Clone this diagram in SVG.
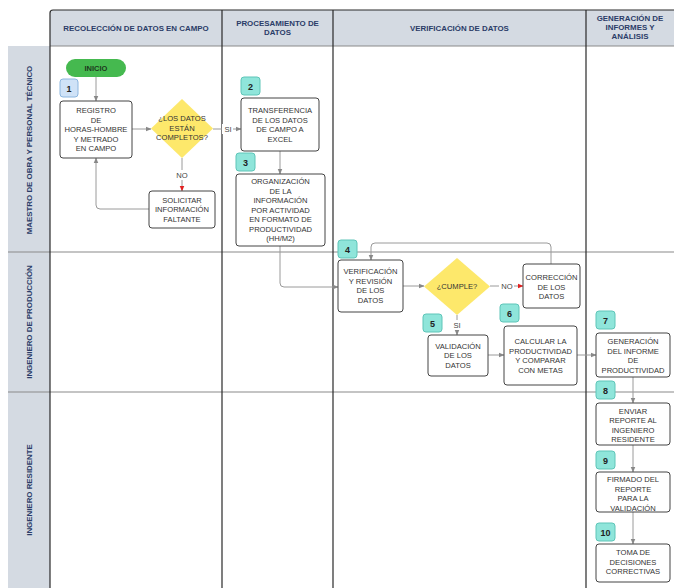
<svg xmlns="http://www.w3.org/2000/svg" width="674" height="588" viewBox="0 0 674 588">
<style>
text{font-family:"Liberation Sans",Arial,sans-serif;}
.hd{fill:#d4dae2;}
.ht{font-size:7.9px;font-weight:bold;fill:#2b3c68;text-anchor:middle;}
.col{stroke:#2a2a2a;stroke-width:1.2;fill:none;}
.sep{stroke:#8a8a8a;stroke-width:1.2;fill:none;}
.box{fill:#fff;stroke:#444;stroke-width:1;}
.bt{font-size:7.6px;fill:#333;text-anchor:middle;}
.bdg{fill:#8fe5da;stroke:#5ec5b8;stroke-width:1;}
.bdg1{fill:#cfe2f7;stroke:#8cb6df;stroke-width:1;}
.bn{font-size:9px;font-weight:bold;fill:#222;text-anchor:middle;}
.dia{fill:#fde86b;}
.cn{stroke:#9a9a9a;stroke-width:1;fill:none;}
.lbl{font-size:7.6px;fill:#444;text-anchor:middle;}
</style>
<defs>
<marker id="ar" viewBox="0 0 10 10" refX="9" refY="5" markerWidth="6" markerHeight="6" orient="auto"><path d="M0,1 L10,5 L0,9 z" fill="#888"/></marker>
<marker id="arr" viewBox="0 0 10 10" refX="9" refY="5" markerWidth="6" markerHeight="6" orient="auto"><path d="M0,1 L10,5 L0,9 z" fill="#e02020"/></marker>
</defs>
<rect width="674" height="588" fill="#fff"/>
<g id="swimlanes">
<path class="hd" d="M50,46 V13 Q50,10 53,10 H674 V46 Z"/>
<rect class="hd" x="8" y="46" width="42" height="542"/>
<path class="sep" d="M50,46 H674"/>
<path class="sep" d="M8,252 H674 M8,392 H674"/>
<path class="col" d="M50,13 Q50,10 53,10 H674"/>
<path class="col" d="M50,13 V588 M222,10 V588 M333,10 V588 M586,10 V588"/>
<text class="ht" x="136" y="31">RECOLECCIÓN DE DATOS EN CAMPO</text>
<text class="ht" x="277.5" y="26">PROCESAMIENTO DE</text>
<text class="ht" x="277.5" y="35">DATOS</text>
<text class="ht" x="459.5" y="31">VERIFICACIÓN DE DATOS</text>
<text class="ht" x="630" y="21">GENERACIÓN DE</text>
<text class="ht" x="630" y="30">INFORMES Y</text>
<text class="ht" x="630" y="39">ANÁLISIS</text>
<text class="ht" transform="translate(31.5,150) rotate(-90)">MAESTRO DE OBRA Y PERSONAL TÉCNICO</text>
<text class="ht" transform="translate(31.5,322) rotate(-90)">INGENIERO DE PRODUCCIÓN</text>
<text class="ht" transform="translate(31.5,490) rotate(-90)">INGENIERO RESIDENTE</text>
</g>
<g id="connectors">
<path class="cn" d="M96,77 V101" marker-end="url(#ar)"/>
<path class="cn" d="M132,129 H151" marker-end="url(#ar)"/>
<path class="cn" d="M213,129 H241" marker-end="url(#ar)"/>
<path class="cn" d="M280,151 V174" marker-end="url(#ar)"/>
<path class="cn" d="M182,158 V191" marker-end="url(#arr)"/>
<path class="cn" d="M149,209 H100 Q96,209 96,205 V158" marker-end="url(#ar)"/>
<path class="cn" d="M280,246 V283 Q280,287 284,287 H338" marker-end="url(#ar)"/>
<path class="cn" d="M403,286 H424" marker-end="url(#ar)"/>
<path class="cn" d="M490,286 H523" marker-end="url(#arr)"/>
<path class="cn" d="M551,264 V247 Q551,243 547,243 H375 Q371,243 371,247 V260" marker-end="url(#ar)"/>
<path class="cn" d="M457,315 V335" marker-end="url(#ar)"/>
<path class="cn" d="M488,355 H504" marker-end="url(#ar)"/>
<path class="cn" d="M577,355 H596" marker-end="url(#ar)"/>
<path class="cn" d="M633,377 V403" marker-end="url(#ar)"/>
<path class="cn" d="M633,445 V472" marker-end="url(#ar)"/>
<path class="cn" d="M633,512 V544" marker-end="url(#ar)"/>
<rect x="222" y="124" width="11" height="10" fill="#fff"/>
<text class="lbl" x="228" y="132">SI</text>
<rect x="175" y="170" width="14" height="10" fill="#fff"/>
<text class="lbl" x="182" y="178">NO</text>
<rect x="499" y="281" width="15" height="10" fill="#fff"/>
<text class="lbl" x="507" y="289">NO</text>
<rect x="452" y="320" width="10" height="10" fill="#fff"/>
<text class="lbl" x="457" y="328">SI</text>
</g>
<g id="inicio">
<rect x="66" y="59" width="60" height="18" rx="9" fill="#45b94f"/>
<text x="96" y="71" font-size="7.5" font-weight="bold" fill="#1d3a1d" text-anchor="middle">INICIO</text>
</g>
<g id="n1">
<rect class="bdg1" x="60" y="79" width="18" height="18" rx="3"/>
<text class="bn" x="69" y="91.5">1</text>
<rect class="box" x="60" y="101" width="72" height="57" rx="3"/>
<text class="bt" x="96" y="113">REGISTRO<tspan x="96" dy="9.5">DE</tspan><tspan x="96" dy="9.5">HORAS-HOMBRE</tspan><tspan x="96" dy="9.5">Y METRADO</tspan><tspan x="96" dy="9.5">EN CAMPO</tspan></text>
</g>
<g id="d1">
<path class="dia" d="M182,99 L213,128.5 L182,158 L151,128.5 Z"/>
<text class="bt" x="182" y="121">¿LOS DATOS<tspan x="182" dy="9.5">ESTÁN</tspan><tspan x="182" dy="9.5">COMPLETOS?</tspan></text>
</g>
<g id="solicitar">
<rect class="box" x="149" y="191" width="66" height="37" rx="3"/>
<text class="bt" x="182" y="202.5">SOLICITAR<tspan x="182" dy="9.5">INFORMACIÓN</tspan><tspan x="182" dy="9.5">FALTANTE</tspan></text>
</g>
<g id="n2">
<rect class="bdg" x="241" y="77" width="19" height="18" rx="3"/>
<text class="bn" x="250.5" y="89.5">2</text>
<rect class="box" x="241" y="98" width="78" height="53" rx="3"/>
<text class="bt" x="280" y="113">TRANSFERENCIA<tspan x="280" dy="9.7">DE LOS DATOS</tspan><tspan x="280" dy="9.7">DE CAMPO A</tspan><tspan x="280" dy="9.7">EXCEL</tspan></text>
</g>
<g id="n3">
<rect class="bdg" x="236" y="153" width="19" height="18" rx="3"/>
<text class="bn" x="245.5" y="166">3</text>
<rect class="box" x="236" y="174" width="89" height="72" rx="3"/>
<text class="bt" x="280.5" y="184">ORGANIZACIÓN<tspan x="280.5" dy="9.5">DE LA</tspan><tspan x="280.5" dy="9.5">INFORMACIÓN</tspan><tspan x="280.5" dy="9.5">POR ACTIVIDAD</tspan><tspan x="280.5" dy="9.5">EN FORMATO DE</tspan><tspan x="280.5" dy="9.5">PRODUCTIVIDAD</tspan><tspan x="280.5" dy="9.5">(HH/M2)</tspan></text>
</g>
<g id="n4">
<rect class="bdg" x="338" y="240" width="19" height="18" rx="3"/>
<text class="bn" x="347.5" y="252.5">4</text>
<rect class="box" x="338" y="260" width="65" height="52" rx="3"/>
<text class="bt" x="370.5" y="274">VERIFICACIÓN<tspan x="370.5" dy="9.5">Y REVISIÓN</tspan><tspan x="370.5" dy="9.5">DE LOS</tspan><tspan x="370.5" dy="9.5">DATOS</tspan></text>
</g>
<g id="d2">
<path class="dia" d="M457,258 L490,286.5 L457,315 L424,286.5 Z"/>
<text class="bt" x="457" y="289">¿CUMPLE?</text>
</g>
<g id="correccion">
<rect class="box" x="523" y="264" width="57" height="44" rx="3"/>
<text class="bt" x="551.5" y="280">CORRECCIÓN<tspan x="551.5" dy="9.5">DE LOS</tspan><tspan x="551.5" dy="9.5">DATOS</tspan></text>
</g>
<g id="n5">
<rect class="bdg" x="423" y="314" width="19" height="18" rx="3"/>
<text class="bn" x="432.5" y="326.5">5</text>
<rect class="box" x="428" y="335" width="60" height="41" rx="3"/>
<text class="bt" x="458" y="348.5">VALIDACIÓN<tspan x="458" dy="9.5">DE LOS</tspan><tspan x="458" dy="9.5">DATOS</tspan></text>
</g>
<g id="n6">
<rect class="bdg" x="500" y="304" width="19" height="18" rx="3"/>
<text class="bn" x="509.5" y="316.5">6</text>
<rect class="box" x="504" y="326" width="73" height="59" rx="3"/>
<text class="bt" x="540.5" y="344">CALCULAR LA<tspan x="540.5" dy="9.7">PRODUCTIVIDAD</tspan><tspan x="540.5" dy="9.7">Y COMPARAR</tspan><tspan x="540.5" dy="9.7">CON METAS</tspan></text>
</g>
<g id="n7">
<rect class="bdg" x="596" y="311" width="19" height="18" rx="3"/>
<text class="bn" x="605.5" y="323.5">7</text>
<rect class="box" x="596" y="333" width="74" height="44" rx="3"/>
<text class="bt" x="633" y="344">GENERACIÓN<tspan x="633" dy="9.5">DEL INFORME</tspan><tspan x="633" dy="9.5">DE</tspan><tspan x="633" dy="9.5">PRODUCTIVIDAD</tspan></text>
</g>
<g id="n8">
<rect class="bdg" x="596" y="381" width="19" height="18" rx="3"/>
<text class="bn" x="605.5" y="393.5">8</text>
<rect class="box" x="596" y="403" width="74" height="42" rx="3"/>
<text class="bt" x="633" y="413.5">ENVIAR<tspan x="633" dy="9.5">REPORTE AL</tspan><tspan x="633" dy="9.5">INGENIERO</tspan><tspan x="633" dy="9.5">RESIDENTE</tspan></text>
</g>
<g id="n9">
<rect class="bdg" x="596" y="451" width="19" height="18" rx="3"/>
<text class="bn" x="605.5" y="463.5">9</text>
<rect class="box" x="596" y="472" width="74" height="40" rx="3"/>
<text class="bt" x="633" y="482">FIRMADO DEL<tspan x="633" dy="9.5">REPORTE</tspan><tspan x="633" dy="9.5">PARA LA</tspan><tspan x="633" dy="9.5">VALIDACIÓN</tspan></text>
</g>
<g id="n10">
<rect class="bdg" x="596" y="523" width="19" height="18" rx="3"/>
<text class="bn" x="605.5" y="535.5">10</text>
<rect class="box" x="596" y="544" width="74" height="38" rx="3"/>
<text class="bt" x="633" y="555">TOMA DE<tspan x="633" dy="9.5">DECISIONES</tspan><tspan x="633" dy="9.5">CORRECTIVAS</tspan></text>
</g>
</svg>
